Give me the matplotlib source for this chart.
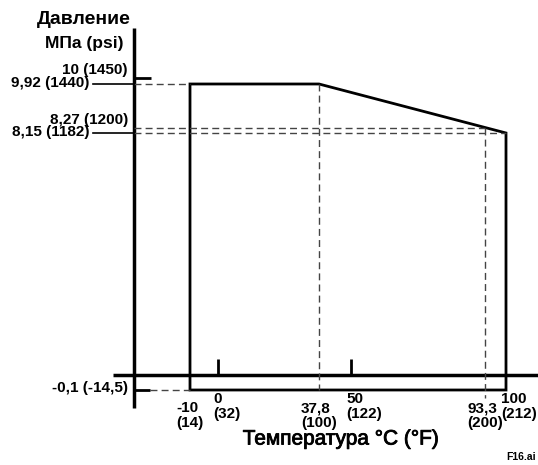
import numpy as np
import matplotlib
matplotlib.use('Agg')
import matplotlib.pyplot as plt
import matplotlib.patheffects as pe

# envelope of allowed pressure vs temperature
env_temp = [-10, -10, 37.8, 100, 100]
env_press = [-0.1, 9.92, 9.92, 8.15, -0.1]

# pressure values marked on the vertical axis
p_values = [10, 9.92, 8.27, 8.15, -0.1]
p_labels = ['10 (1450)', '9,92 (1440)', '8,27 (1200)', '8,15 (1182)', '-0,1 (-14,5)']

# temperature values marked on the horizontal axis
t_values = [-10, 0, 37.8, 50, 93.3, 100]
t_labels = ['-10\n(14)', '0\n(32)', '37,8\n(100)', '50\n(122)', '93,3\n(200)', '100\n(212)']
t_ticks = [0, 50]

W, H = 538, 465

# the drawing is schematic (not to scale) -> piecewise scales
T_ANCH = np.array([-77.86, -10, 0, 37.8, 50, 93.3, 100, 111.0])
T_PIX = np.array([0, 190, 218, 319, 351, 485, 506, 538.0])
P_ANCH = np.array([-0.6, -0.1, 0, 8.15, 8.27, 9.92, 10, 12.6])
P_PIX = np.array([0, 75, 90, 332, 337, 381, 387, 465.0])

def t_fwd(t): return np.interp(t, T_ANCH, T_PIX)
def t_inv(x): return np.interp(x, T_PIX, T_ANCH)
def p_fwd(p): return np.interp(p, P_ANCH, P_PIX)
def p_inv(y): return np.interp(y, P_PIX, P_ANCH)

fig = plt.figure(figsize=(W / 100, H / 100), dpi=100)
ax = fig.add_axes([0, 0, 1, 1])
ax.set_xscale('function', functions=(t_fwd, t_inv))
ax.set_yscale('function', functions=(p_fwd, p_inv))
ax.set_xlim(T_ANCH[0], T_ANCH[-1])
ax.set_ylim(P_ANCH[0], P_ANCH[-1])
ax.axis('off')

font = ['Liberation Sans', 'DejaVu Sans']
dash = dict(color='#444444', lw=1.0, ls=(0, (5, 3)))

t_axis = t_inv(133.5)  # where the pressure axis sits
p_top, p_bot = p_inv(H - 28), p_inv(H - 408)

# axes of the diagram
ax.plot([t_axis, t_axis], [p_bot, p_top], color='black', lw=2.5, solid_capstyle='butt')
ax.plot([t_inv(113), T_ANCH[-1]], [0, 0], color='black', lw=2.5, solid_capstyle='butt')

# reference lines
ax.plot([t_axis, -10], [9.92, 9.92], **dash)
ax.plot([t_axis, 93.3], [8.27, 8.27], **dash)
ax.plot([t_axis, 100], [8.15, 8.15], **dash)
ax.plot([t_inv(150), -10], [-0.1, -0.1], **dash)
ax.plot([37.8, 37.8], [9.92, -0.1], **dash)
ax.plot([93.3, 93.3], [8.27, p_inv(H - 398)], **dash)

# leaders and short ticks on the pressure axis
ax.plot([t_inv(93), t_axis], [9.92, 9.92], color='black', lw=1.2)
ax.plot([t_inv(93), t_axis], [8.15, 8.15], color='black', lw=1.2)
ax.plot([t_axis, t_inv(151)], [10, 10], color='black', lw=2, solid_capstyle='butt')
ax.plot([t_axis, t_inv(150)], [-0.1, -0.1], color='black', lw=2, solid_capstyle='butt')

# envelope
ax.fill(env_temp, env_press, facecolor='none', edgecolor='black', lw=2)

# ticks at 0 and 50 C
for t in t_ticks:
    ax.plot([t, t], [0, p_inv(H - 359)], color='black', lw=2, solid_capstyle='butt')

# pressure labels
for v, lab in zip(p_values, p_labels):
    if v in (9.92, 8.15):
        x, dy = 89, 1
    elif v == -0.1:
        x, dy = 128, 2
    else:
        x, dy = 128, 8
    ax.annotate(lab, xy=(t_inv(x), v), xytext=(0, dy), textcoords='offset pixels',
                ha='right', va='center', fontsize=11, fontweight='bold', family=font)

# temperature labels
for v, lab in zip(t_values, t_labels):
    if v in t_ticks or v == 100:
        ax.annotate(lab, xy=(v, p_inv(H - 392)), xytext=(-5, 0), textcoords='offset pixels',
                    ha='left', va='top', fontsize=11, fontweight='bold', family=font,
                    multialignment='left', linespacing=1.05)
    else:
        ax.annotate(lab, xy=(v, p_inv(H - 401)), xytext=(0, 0), textcoords='offset pixels',
                    ha='center', va='top', fontsize=11, fontweight='bold', family=font,
                    multialignment='left', linespacing=1.05)

# titles
fig.text(84 / W, 1 - 20 / H, 'Давление', ha='center', va='center',
         fontsize=14, fontweight='bold', family=font)
fig.text(84 / W, 1 - 43 / H, 'МПа (psi)', ha='center', va='center',
         fontsize=12.5, fontweight='bold', family=font)
fig.text(341 / W, 1 - 439 / H, 'Температура °C (°F)', ha='center', va='center',
         fontsize=15, family=font,
         path_effects=[pe.withStroke(linewidth=0.6, foreground='black')])
fig.text(536 / W, 1 - 457 / H, 'F16.ai', ha='right', va='center',
         fontsize=7.5, fontweight='bold', family=font)

fig.savefig('out.png', dpi=100)
